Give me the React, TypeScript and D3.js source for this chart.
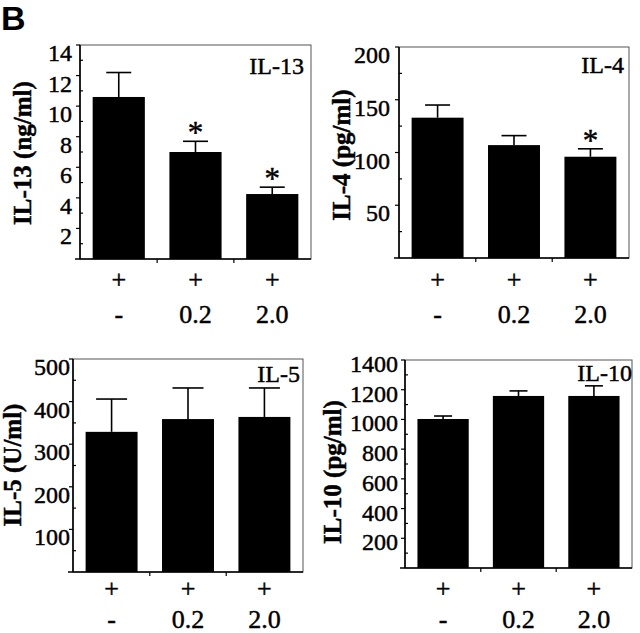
import React from "react";
import * as d3 from "d3";

const stimLabels = ["+", "+", "+"];
const doseLabels = ["-", "0.2", "2.0"];

const il13Mean = [10.6, 7.0, 4.25];
const il13Sem = [1.6, 0.7, 0.45];
const il13Sig = [false, true, true];
const il13Ticks = [2, 4, 6, 8, 10, 12, 14];

const il4Mean = [133, 107, 96];
const il4Sem = [12, 9, 7.5];
const il4Sig = [false, false, true];
const il4Ticks = [50, 100, 150, 200];

const il5Mean = [329, 359, 364];
const il5Sem = [77, 73, 68];
const il5Sig = [false, false, false];
const il5Ticks = [100, 200, 300, 400, 500];

const il10Mean = [1003, 1158, 1158];
const il10Sem = [20, 34, 68];
const il10Sig = [false, false, false];
const il10Ticks = [200, 400, 600, 800, 1000, 1200, 1400];

const SERIF = "'Liberation Serif', 'Times New Roman', serif";
const TS = { stroke: "#000", strokeWidth: 0.45 };

type PanelProps = {
  x0: number; y0: number; x1: number; y1: number;
  max: number; ticks: number[]; minorStep: number;
  mean: number[]; sem: number[]; sig: boolean[];
  title: string; ylabel: string;
  ylabelX: number; ylabelY: number;
  tickGap: number; tickDy: number;
  titleX: number; titleY: number;
  capW: number; plusY: number; doseY: number;
};

function Panel(p: PanelProps) {
  const x = d3.scaleBand<number>().domain([0, 1, 2]).range([p.x0, p.x1]).paddingInner(0.32).paddingOuter(0.165);
  const y = d3.scaleLinear().domain([0, p.max]).range([p.y1, p.y0]);
  const bw = x.bandwidth();
  const minor = d3.range(p.minorStep, p.max, p.minorStep).filter((v) => !p.ticks.includes(v));
  const step = x.step();
  const boundaries = [1, 2].map((i) => (x(i) as number) - (step - bw) / 2);
  return (
    <g>
      <rect x={p.x0} y={p.y0} width={p.x1 - p.x0} height={p.y1 - p.y0} fill="none" stroke="#555" strokeWidth={1} />
      {p.mean.map((m, i) => (
        <rect key={"b" + i} x={x(i)} y={y(m)} width={bw} height={y(0) - y(m)} fill="#000" />
      ))}
      {p.mean.map((m, i) => {
        const cx = (x(i) as number) + bw / 2;
        const top = y(m + p.sem[i]);
        return (
          <g key={"e" + i} stroke="#000" strokeWidth={1.6}>
            <line x1={cx} x2={cx} y1={y(m)} y2={top} />
            <line x1={cx - p.capW / 2} x2={cx + p.capW / 2} y1={top} y2={top} />
          </g>
        );
      })}
      {p.mean.map((m, i) =>
        p.sig[i] ? (
          <text key={"s" + i} x={(x(i) as number) + bw / 2} y={y(m + p.sem[i]) + 2} textAnchor="middle" fontFamily={SERIF} fontSize={31} {...TS}>*</text>
        ) : null
      )}
      <line x1={p.x0} x2={p.x0} y1={p.y0} y2={p.y1} stroke="#000" strokeWidth={1.6} />
      <line x1={p.x0 - 5} x2={p.x1} y1={p.y1} y2={p.y1} stroke="#000" strokeWidth={1.6} />
      {boundaries.map((b, i) => (
        <line key={"xb" + i} x1={b} x2={b} y1={p.y1} y2={p.y1 + 4} stroke="#000" strokeWidth={1.2} />
      ))}
      {p.ticks.map((t) => (
        <g key={"t" + t}>
          <line x1={p.x0 - 4} x2={p.x0} y1={y(t)} y2={y(t)} stroke="#000" strokeWidth={1.2} />
          <text x={p.x0 - p.tickGap} y={y(t) + p.tickDy} textAnchor="end" fontFamily={SERIF} fontSize={24} {...TS}>{t}</text>
        </g>
      ))}
      {minor.map((t) => (
        <line key={"m" + t} x1={p.x0} x2={p.x0 + 3} y1={y(t)} y2={y(t)} stroke="#000" strokeWidth={1.2} />
      ))}
      <text x={p.titleX} y={p.titleY} textAnchor="end" fontFamily={SERIF} fontSize={24} {...TS}>{p.title}</text>
      <text transform={`translate(${p.ylabelX},${p.ylabelY}) rotate(-90)`} textAnchor="middle" fontFamily={SERIF} fontWeight="bold" fontSize={25} {...TS}>{p.ylabel}</text>
      {stimLabels.map((s, i) => (
        <text key={"p" + i} x={(x(i) as number) + bw / 2} y={p.plusY} textAnchor="middle" fontFamily={SERIF} fontSize={26} {...TS}>{s}</text>
      ))}
      {doseLabels.map((s, i) => (
        <text key={"d" + i} x={(x(i) as number) + bw / 2} y={p.doseY} textAnchor="middle" fontFamily={SERIF} fontSize={26} {...TS}>{s}</text>
      ))}
    </g>
  );
}

export default function App() {
  return (
    <svg width={640} height={633} style={{ position: "absolute", left: 0, top: 0, background: "#fff" }}>
      <rect width={640} height={633} fill="#fff" />
      <text x={1} y={30} fontFamily="'Liberation Sans', Arial, sans-serif" fontWeight="bold" fontSize={34}>B</text>
      <Panel x0={80} y0={45} x1={311} y1={259} max={14} ticks={il13Ticks} minorStep={1}
        mean={il13Mean} sem={il13Sem} sig={il13Sig} title="IL-13" ylabel="IL-13 (ng/ml)"
        ylabelX={31} ylabelY={153} tickGap={8} tickDy={16} titleX={304} titleY={74}
        capW={25} plusY={288} doseY={323} />
      <Panel x0={399} y0={47} x1={629} y1={258} max={200} ticks={il4Ticks} minorStep={25}
        mean={il4Mean} sem={il4Sem} sig={il4Sig} title="IL-4" ylabel="IL-4 (pg/ml)"
        ylabelX={350} ylabelY={155} tickGap={9} tickDy={16} titleX={624} titleY={73}
        capW={25} plusY={288} doseY={323} />
      <Panel x0={73} y0={359} x1={303} y1={572} max={500} ticks={il5Ticks} minorStep={50}
        mean={il5Mean} sem={il5Sem} sig={il5Sig} title="IL-5" ylabel="IL-5 (U/ml)"
        ylabelX={21} ylabelY={465} tickGap={3} tickDy={16} titleX={300} titleY={382}
        capW={31} plusY={597} doseY={628} />
      <Panel x0={405} y0={360} x1={632} y1={568} max={1400} ticks={il10Ticks} minorStep={100}
        mean={il10Mean} sem={il10Sem} sig={il10Sig} title="IL-10" ylabel="IL-10 (pg/ml)"
        ylabelX={341} ylabelY={472} tickGap={7} tickDy={12} titleX={632} titleY={381}
        capW={18} plusY={597} doseY={628} />
    </svg>
  );
}
